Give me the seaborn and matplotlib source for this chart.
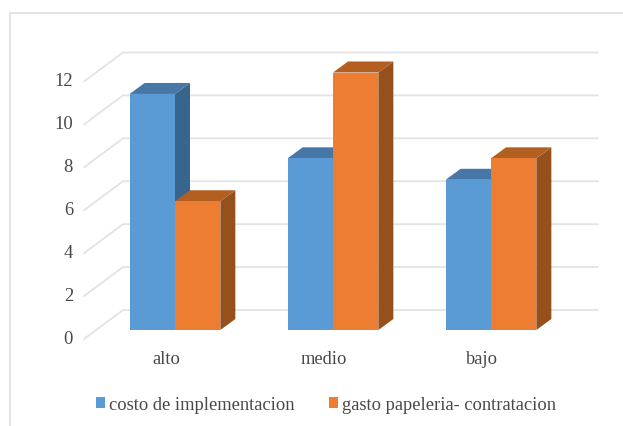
import matplotlib
matplotlib.use("Agg")
import matplotlib.pyplot as plt
from matplotlib.lines import Line2D
from matplotlib.patches import Polygon
from matplotlib.transforms import ScaledTranslation
import pandas as pd
import seaborn as sns

categories = ["alto", "medio", "bajo"]
costo_implementacion = [11, 8, 7]
gasto_papeleria = [6, 12, 8]
series_names = ["costo de implementacion", "gasto papeleria- contratacion"]
y_ticks = [0, 2, 4, 6, 8, 10, 12]

FRONT = ["#5B9BD5", "#ED7D31"]
TOP = ["#4677A6", "#B45F22"]
SIDE = ["#38658E", "#95501B"]
GRID = "#E3E3E3"
TEXT = "#484848"
FONT = "Liberation Serif"
FONT_SIZE = 13.3

W, H = 623, 426
sns.set_theme(style="white", rc={"font.family": FONT})

df = pd.DataFrame({
    "nivel": categories * 2,
    "serie": [series_names[0]] * 3 + [series_names[1]] * 3,
    "valor": costo_implementacion + gasto_papeleria,
})

fig = plt.figure(figsize=(W / 100, H / 100), dpi=100)
ax = fig.add_axes([96 / W, (H - 330) / H, 474 / W, 257.5 / H])
sns.barplot(data=df, x="nivel", y="valor", hue="serie", hue_order=series_names,
            palette=FRONT, saturation=1, width=0.574, gap=0, linewidth=0, ax=ax)
ax.set_xlim(-0.5, 2.5)
ax.set_ylim(0, 12)
ax.set_xlabel("")
ax.set_ylabel("")
sns.despine(ax=ax, left=True, bottom=True)

# Conversion factors between pixels and data units
ux = 3 / 474
uy = 12 / 257.5

# Extruded side and top faces for each bar
depth_x, depth_y = 15 * ux, 11 * uy
for i, container in enumerate(ax.containers):
    for bar in container:
        x0, x1 = bar.get_x(), bar.get_x() + bar.get_width()
        h = bar.get_height()
        z = 3 + i
        bar.set_zorder(z + 0.2)
        ax.add_patch(Polygon([(x1, 0), (x1 + depth_x, depth_y), (x1 + depth_x, h + depth_y), (x1, h)],
                             closed=True, fc=SIDE[i], ec="none", zorder=z, clip_on=False))
        ax.add_patch(Polygon([(x0, h), (x0 + depth_x, h + depth_y), (x1 + depth_x, h + depth_y), (x1, h)],
                             closed=True, fc=TOP[i], ec="none", zorder=z + 0.1, clip_on=False))

# Back wall gridlines and their diagonal returns to the front edge
x_front = -0.5 + (84 - 96) * ux
x_back = -0.5 + (123 - 96) * ux
x_right = -0.5 + (598 - 96) * ux
back_shift = 20 * uy
front_shift = -9 * uy
for v in y_ticks:
    ax.plot([x_front, x_back, x_right], [v + front_shift, v + back_shift, v + back_shift],
            color=GRID, lw=1.3, zorder=1, clip_on=False, solid_joinstyle="miter")

# Tick labels
ax.set_yticks(y_ticks)
ax.set_yticklabels([str(v) for v in y_ticks], fontsize=FONT_SIZE, color=TEXT)
ax.tick_params(axis="y", length=0, pad=16.5)
ax.tick_params(axis="x", length=0, pad=15)
ax.set_xticks(range(len(categories)))
ax.set_xticklabels(categories, fontsize=FONT_SIZE, color=TEXT)
y_off = ScaledTranslation(0, -7.5 / 100, fig.dpi_scale_trans)
for lab in ax.get_yticklabels():
    lab.set_transform(lab.get_transform() + y_off)
x_off = ScaledTranslation(-9 / 100, 0, fig.dpi_scale_trans)
for lab in ax.get_xticklabels():
    lab.set_transform(lab.get_transform() + x_off)

# Legend along the bottom
sns.move_legend(ax, "center left", bbox_to_anchor=(96 / W, (H - 405) / H),
                bbox_transform=fig.transFigure, ncol=2, title=None, frameon=False,
                fontsize=FONT_SIZE, handlelength=0.49, handleheight=0.54, handletextpad=0.22,
                columnspacing=1.84, borderpad=0, borderaxespad=0)
for t in ax.get_legend().get_texts():
    t.set_color(TEXT)

# Outer chart frame, open towards the right and bottom
frame = dict(color="#DDDDDD", lw=1.1, transform=fig.transFigure)
fig.add_artist(Line2D([10 / W, 10 / W], [0, (H - 13) / H], **frame))
fig.add_artist(Line2D([10 / W, 1], [(H - 13) / H, (H - 13) / H], **frame))

fig.savefig("out.png", dpi=100, facecolor="white")
